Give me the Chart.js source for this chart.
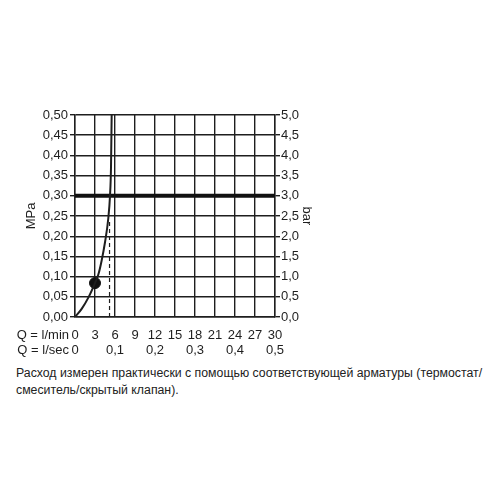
<!DOCTYPE html>
<html>
<head>
<meta charset="utf-8">
<script src="https://cdn.jsdelivr.net/npm/chart.js@4/dist/chart.umd.min.js"></script>
<style>
  html, body { margin: 0; padding: 0; background: #fff; }
  body { width: 500px; height: 500px; position: relative; overflow: hidden; }
  #wrap { position: absolute; left: 0; top: 100px; width: 330px; height: 261px; }
  #note {
    position: absolute; left: 16px; top: 365px; width: 484px;
    font-family: "Liberation Sans", Arial, sans-serif; font-size: 12.3px;
    line-height: 17px; color: #222; white-space: nowrap;
  }
</style>
</head>
<body>
<div id="wrap"><canvas id="chart"></canvas></div>
<div id="note">Расход измерен практически с помощью соответствующей арматуры (термостат/<br>смеситель/скрытый клапан).</div>
<script>
// flow curve (l/min, MPa)
const curveFlow = [0, 1, 2, 3, 3.5, 4, 4.5, 5, 5.25, 5.4, 5.5];
const curvePressure = [0, 0.02, 0.048, 0.084, 0.105, 0.14, 0.185, 0.245, 0.30, 0.37, 0.50];

// operating point
const pointFlow = [3];
const pointPressure = [0.084];

// recommended pressure line
const refFlow = [0, 30];
const refPressure = [0.30, 0.30];

// dashed marker
const dashFlow = [5.18, 5.18];
const dashPressure = [0, 0.24];

// axes
const flowMin = 0, flowMax = 30, flowStep = 3;
const secMin = 0, secMax = 0.5, secStep = 0.1;
const mpaMin = 0, mpaMax = 0.5, mpaStep = 0.05;
const barMin = 0, barMax = 5, barStep = 0.5;
const rowLabels = ["Q = l/min", "Q = l/sec"];

const ink = "#1e1e1e";
const tickFont = { family: "'Liberation Sans', Arial, sans-serif", size: 13 };

function pts(xs, ys) {
    return xs.map(function (x, i) { return { x: x, y: ys[i] }; });
}
function comma(v, digits) {
    return Number(v).toFixed(digits).replace(".", ",");
}

// draws the "Q = ..." row captions left of the bottom tick rows
const rowCaptions = {
    id: "rowCaptions",
    afterDraw(chart) {
        const ctx = chart.ctx;
        const sx = chart.scales.x;
        ctx.save();
        ctx.fillStyle = ink;
        ctx.font = "13px 'Liberation Sans', Arial, sans-serif";
        ctx.textAlign = "right";
        ctx.textBaseline = "middle";
        ctx.fillText(rowLabels[0], sx.left - 6, chart.chartArea.bottom + 18);
        ctx.fillText(rowLabels[1], sx.left - 6, chart.chartArea.bottom + 33);
        ctx.restore();
    }
};

new Chart(document.getElementById("chart"), {
    type: "scatter",
    data: {
        datasets: [
            {
                data: pts(curveFlow, curvePressure),
                showLine: true,
                borderColor: ink,
                borderWidth: 2,
                pointRadius: 0,
                cubicInterpolationMode: "monotone"
            },
            {
                data: pts(refFlow, refPressure),
                showLine: true,
                borderColor: "#111",
                borderWidth: 4,
                pointRadius: 0
            },
            {
                data: pts(dashFlow, dashPressure),
                showLine: true,
                borderColor: ink,
                borderWidth: 1.2,
                borderDash: [4, 3],
                pointRadius: 0
            },
            {
                data: pts(pointFlow, pointPressure),
                backgroundColor: "#111",
                borderColor: "#111",
                pointRadius: 5.5
            }
        ]
    },
    options: {
        responsive: true,
        maintainAspectRatio: false,
        animation: false,
        layout: { padding: { top: 15, left: 0, right: 0, bottom: 0 } },
        plugins: {
            legend: { display: false },
            tooltip: { enabled: false }
        },
        scales: {
            x: {
                type: "linear",
                position: "bottom",
                min: flowMin, max: flowMax,
                afterFit(s) { s.height = 24; },
                ticks: {
                    stepSize: flowStep, color: ink, font: tickFont, padding: 11,
                    maxRotation: 0, autoSkip: false
                },
                grid: { color: ink, lineWidth: 1.4, drawTicks: false },
                border: { color: ink, width: 1.4 }
            },
            x2: {
                type: "linear",
                position: "bottom",
                min: secMin, max: secMax,
                afterFit(s) { s.height = 20; },
                ticks: {
                    stepSize: secStep, color: ink, font: tickFont, padding: 2,
                    maxRotation: 0, autoSkip: false,
                    callback: function (v) { return v === 0 ? "0" : comma(v, 1); }
                },
                grid: { display: false, drawTicks: false },
                border: { display: false }
            },
            y: {
                type: "linear",
                position: "left",
                min: mpaMin, max: mpaMax,
                afterFit(s) { s.width = 75; },
                ticks: {
                    stepSize: mpaStep, color: ink, font: tickFont, padding: 2,
                    callback: function (v) { return comma(v, 2); }
                },
                grid: { color: ink, lineWidth: 1.4, tickLength: 5 },
                border: { color: ink, width: 1.4 },
                title: {
                    display: true, text: "MPa", color: ink, font: tickFont,
                    padding: { top: 24, bottom: 0 }
                }
            },
            y2: {
                type: "linear",
                position: "right",
                min: barMin, max: barMax,
                afterFit(s) { s.width = 55; },
                ticks: {
                    stepSize: barStep, color: ink, font: tickFont, padding: 1,
                    callback: function (v) { return comma(v, 1); }
                },
                grid: { drawOnChartArea: false, color: ink, lineWidth: 1.4, tickLength: 5 },
                border: { color: ink, width: 1.4 },
                title: {
                    display: true, text: "bar", color: ink, font: tickFont,
                    padding: { top: 16, bottom: 0 }
                }
            }
        }
    },
    plugins: [rowCaptions]
});
</script>
</body>
</html>
